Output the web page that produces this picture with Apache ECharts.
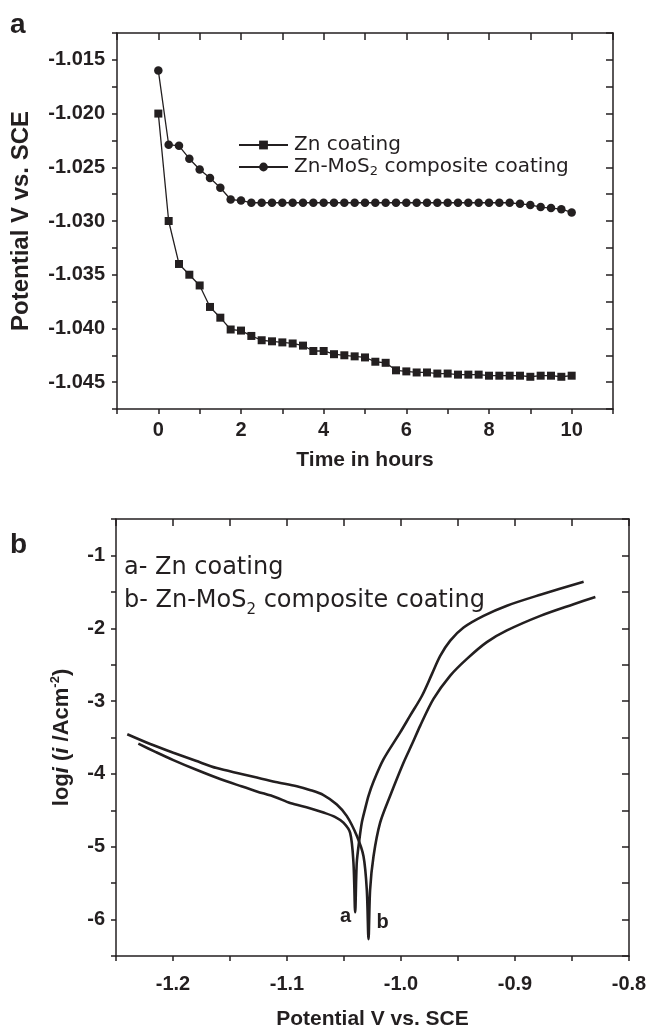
<!DOCTYPE html>
<html>
<head>
<meta charset="utf-8">
<script src="https://cdn.jsdelivr.net/npm/echarts@6/dist/echarts.min.js"></script>
<style>
  html, body { margin: 0; padding: 0; background: #fff; }
  #chart { width: 648px; height: 1028px; }
</style>
</head>
<body>
<div id="chart"></div>
<script>
// panel a: potential against time
const timeHours = [0, 0.25, 0.5, 0.75, 1, 1.25, 1.5, 1.75, 2, 2.25, 2.5, 2.75, 3, 3.25, 3.5, 3.75, 4, 4.25, 4.5, 4.75,
  5, 5.25, 5.5, 5.75, 6, 6.25, 6.5, 6.75, 7, 7.25, 7.5, 7.75, 8, 8.25, 8.5, 8.75, 9, 9.25, 9.5, 9.75, 10];
const znCoating = [-1.0200, -1.0300, -1.0340, -1.0350, -1.0360, -1.0380, -1.0390, -1.0401, -1.0402, -1.0407,
  -1.0411, -1.0412, -1.0413, -1.0414, -1.0416, -1.0421, -1.0421, -1.0424, -1.0425, -1.0426,
  -1.0427, -1.0431, -1.0432, -1.0439, -1.0440, -1.0441, -1.0441, -1.0442, -1.0442, -1.0443,
  -1.0443, -1.0443, -1.0444, -1.0444, -1.0444, -1.0444, -1.0445, -1.0444, -1.0444, -1.0445, -1.0444];
const znMoS2Coating = [-1.0160, -1.0229, -1.0230, -1.0242, -1.0252, -1.0260, -1.0269, -1.0280, -1.0281, -1.0283,
  -1.0283, -1.0283, -1.0283, -1.0283, -1.0283, -1.0283, -1.0283, -1.0283, -1.0283, -1.0283,
  -1.0283, -1.0283, -1.0283, -1.0283, -1.0283, -1.0283, -1.0283, -1.0283, -1.0283, -1.0283,
  -1.0283, -1.0283, -1.0283, -1.0283, -1.0283, -1.0284, -1.0285, -1.0287, -1.0288, -1.0289, -1.0292];

// panel b: polarization curves (potential V, log i)
const curveAPotential = [-1.2304, -1.2150, -1.1997, -1.1800, -1.1587, -1.1400, -1.1265, -1.1100, -1.0973, -1.0800,
  -1.0680, -1.0580, -1.0505, -1.0446, -1.0417, -1.0402, -1.0388, -1.0365, -1.0344, -1.0315,
  -1.0285, -1.0240, -1.0154, -1.0007, -0.9920, -0.9817, -0.9729, -0.9656, -0.9568, -0.9451,
  -0.9276, -0.9071, -0.8778, -0.8398];
const curveALogI = [-3.585, -3.70, -3.81, -3.94, -4.07, -4.17, -4.24, -4.32, -4.40, -4.47,
  -4.53, -4.59, -4.67, -4.81, -5.22, -5.90, -5.22, -4.90, -4.67, -4.48,
  -4.30, -4.10, -3.80, -3.43, -3.20, -2.93, -2.63, -2.38, -2.17, -1.99,
  -1.83, -1.69, -1.54, -1.36];
const curveBPotential = [-1.2401, -1.2200, -1.1997, -1.1800, -1.1616, -1.1400, -1.1265, -1.1100, -1.0914, -1.0800,
  -1.0680, -1.0563, -1.0475, -1.0388, -1.0329, -1.0300, -1.0285, -1.0271, -1.0241, -1.0183,
  -1.0095, -0.9979, -0.9900, -0.9832, -0.9715, -0.9568, -0.9422, -0.9247, -0.9071, -0.8778,
  -0.8486, -0.8295];
const curveBLogI = [-3.456, -3.59, -3.71, -3.82, -3.92, -4.00, -4.05, -4.11, -4.17, -4.22,
  -4.29, -4.42, -4.58, -4.85, -5.13, -5.59, -6.27, -5.59, -5.13, -4.67,
  -4.30, -3.85, -3.58, -3.34, -2.97, -2.65, -2.42, -2.19, -2.03, -1.83,
  -1.67, -1.57];

const ink = '#231f20';
const boldFont = { fontFamily: 'Liberation Sans', fontWeight: 'bold', color: ink };
const plainFont = 'DejaVu Sans';

const chart = echarts.init(document.getElementById('chart'));

function pairs(xs, ys) {
  return xs.map((x, i) => [x, ys[i]]);
}

// letter next to the lowest point of a polarization curve
function spikeMark(xs, ys, letter, position, distance, offset) {
  let low = 0;
  ys.forEach((v, i) => { if (v < ys[low]) low = i; });
  return {
    symbol: 'circle', symbolSize: 2, silent: true,
    itemStyle: { color: 'rgba(0,0,0,0)' },
    label: { show: true, formatter: letter, position: position, distance: distance, offset: offset,
      fontSize: 20, ...boldFont },
    data: [{ coord: [xs[low], ys[low]] }]
  };
}

function frameAxis(gridIndex, position, min, max, interval) {
  return {
    gridIndex: gridIndex, type: 'value', position: position, min: min, max: max, interval: interval,
    axisLine: { onZero: false, lineStyle: { color: ink, width: 1.5 } },
    axisTick: { inside: true, length: 7, lineStyle: { color: ink, width: 1.5 } },
    axisLabel: { show: false }, splitLine: { show: false }
  };
}

const tickStyle = { inside: false, length: 5, lineStyle: { color: ink, width: 1.5 } };
const lineAxis = { onZero: false, lineStyle: { color: ink, width: 1.5 } };

chart.setOption({
  animation: false,
  backgroundColor: '#fff',
  grid: [
    { left: 117, top: 33, width: 496, height: 376, outerBoundsMode: 'none' },
    { left: 116, top: 519, width: 513, height: 437, outerBoundsMode: 'none' }
  ],
  legend: {
    data: ['Zn coating', 'Zn-MoS2 composite coating'],
    orient: 'vertical', left: 238, top: 135, padding: 0,
    itemWidth: 49, itemHeight: 11, itemGap: 2, selectedMode: false,
    formatter: name => name === 'Zn-MoS2 composite coating'
      ? '{t|Zn-MoS}{s|2}{t| composite coating}' : '{t|' + name + '}',
    textStyle: {
      color: ink, fontFamily: plainFont, fontSize: 20, padding: [0, 0, 0, 1],
      rich: {
        t: { fontSize: 20, lineHeight: 23, color: ink, fontFamily: plainFont },
        s: { fontSize: 13, lineHeight: 14, verticalAlign: 'bottom', color: ink, fontFamily: plainFont }
      }
    }
  },
  xAxis: [
    {
      gridIndex: 0, type: 'value', position: 'bottom', min: -1, max: 11, interval: 1,
      axisLine: lineAxis, axisTick: tickStyle, splitLine: { show: false },
      axisLabel: { formatter: v => (v >= 0 && v % 2 === 0) ? String(v) : '', fontSize: 20, margin: 11, ...boldFont },
      name: 'Time in hours', nameLocation: 'middle', nameGap: 41,
      nameTextStyle: { fontSize: 21, ...boldFont }
    },
    frameAxis(0, 'top', -1, 11, 1),
    {
      gridIndex: 1, type: 'value', position: 'bottom', min: -1.25, max: -0.8, interval: 0.05,
      axisLine: lineAxis, axisTick: tickStyle, splitLine: { show: false },
      axisLabel: { formatter: v => Math.round(v * 100) % 10 === 0 ? v.toFixed(1) : '', fontSize: 20, margin: 18, ...boldFont },
      name: 'Potential V vs. SCE', nameLocation: 'middle', nameGap: 53,
      nameTextStyle: { fontSize: 21, ...boldFont }
    },
    frameAxis(1, 'top', -1.25, -0.8, 0.05)
  ],
  yAxis: [
    {
      gridIndex: 0, type: 'value', position: 'left', min: -1.0475, max: -1.0125, interval: 0.0025,
      axisLine: lineAxis, axisTick: tickStyle, splitLine: { show: false },
      axisLabel: { formatter: v => Math.round(v * 10000) % 50 === 0 ? v.toFixed(3) : '', fontSize: 20, margin: 12, ...boldFont },
      name: 'Potential V vs. SCE', nameLocation: 'middle', nameGap: 84,
      nameTextStyle: { fontSize: 24, ...boldFont }
    },
    frameAxis(0, 'right', -1.0475, -1.0125, 0.0025),
    {
      gridIndex: 1, type: 'value', position: 'left', min: -6.5, max: -0.5, interval: 0.5,
      axisLine: lineAxis, axisTick: tickStyle, splitLine: { show: false },
      axisLabel: { formatter: v => Number.isInteger(v) ? String(v) : '', fontSize: 20, margin: 11, ...boldFont },
      name: '{b|log}{i|i}{b| (}{i|i}{b| /Acm}{p|-2}{b|)}', nameLocation: 'middle', nameGap: 42,
      nameTextStyle: {
        fontSize: 22, ...boldFont,
        rich: {
          b: { fontSize: 22, lineHeight: 25, ...boldFont },
          i: { fontSize: 22, lineHeight: 25, fontStyle: 'italic', ...boldFont },
          p: { fontSize: 13, lineHeight: 13, verticalAlign: 'top', ...boldFont }
        }
      }
    },
    frameAxis(1, 'right', -6.5, -0.5, 0.5)
  ],
  graphic: [
    { type: 'text', left: 10, top: 11, style: { text: 'a', fontSize: 28, fontWeight: 'bold', fontFamily: 'Liberation Sans', fill: ink } },
    { type: 'text', left: 10, top: 531, style: { text: 'b', fontSize: 28, fontWeight: 'bold', fontFamily: 'Liberation Sans', fill: ink } },
    {
      type: 'text', left: 124, top: 556,
      style: {
        text: '{t|a- Zn coating}\n{t|b- Zn-MoS}{s|2}{t| composite coating}',
        fill: ink, fontFamily: plainFont, fontSize: 24,
        rich: {
          t: { fontSize: 24, lineHeight: 33, fill: ink, fontFamily: plainFont },
          s: { fontSize: 15, lineHeight: 26, verticalAlign: 'bottom', fill: ink, fontFamily: plainFont }
        }
      }
    }
  ],
  series: [
    {
      name: 'Zn coating', type: 'line', xAxisIndex: 0, yAxisIndex: 0,
      data: pairs(timeHours, znCoating),
      symbol: 'rect', symbolSize: 8, color: ink,
      itemStyle: { color: ink }, lineStyle: { color: ink, width: 1.3 }
    },
    {
      name: 'Zn-MoS2 composite coating', type: 'line', xAxisIndex: 0, yAxisIndex: 0,
      data: pairs(timeHours, znMoS2Coating),
      symbol: 'circle', symbolSize: 8.5, color: ink,
      itemStyle: { color: ink }, lineStyle: { color: ink, width: 1.3 }
    },
    {
      name: 'a', type: 'line', xAxisIndex: 2, yAxisIndex: 2,
      data: pairs(curveAPotential, curveALogI),
      symbol: 'none', color: ink, smooth: 0.3,
      lineStyle: { color: ink, width: 2.6 },
      markPoint: spikeMark(curveAPotential, curveALogI, 'a', 'left', 3, [0, 4])
    },
    {
      name: 'b', type: 'line', xAxisIndex: 2, yAxisIndex: 2,
      data: pairs(curveBPotential, curveBLogI),
      symbol: 'none', color: ink, smooth: 0.3,
      lineStyle: { color: ink, width: 2.6 },
      markPoint: spikeMark(curveBPotential, curveBLogI, 'b', 'right', 7, [0, -17])
    }
  ]
});
</script>
</body>
</html>
